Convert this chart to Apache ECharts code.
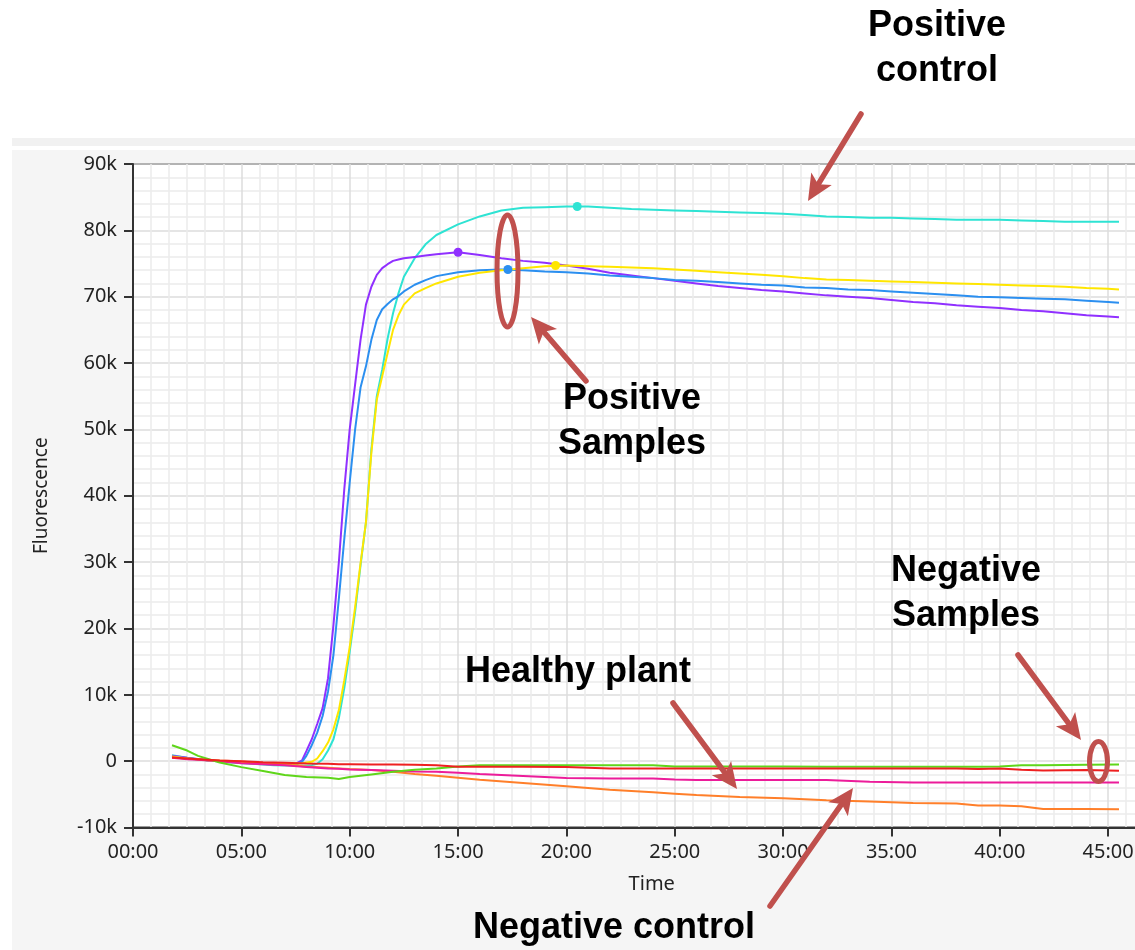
<!DOCTYPE html>
<html><head><meta charset="utf-8">
<script src="https://cdn.jsdelivr.net/npm/echarts@6/dist/echarts.min.js"></script>
<style>html,body{margin:0;padding:0;background:#fff}#c{width:1135px;height:950px}</style>
</head><body><div id="c"></div>
<script>
// Time in minutes, fluorescence in thousands
const times = [1.8, 2.5, 3.5, 4.5, 5.5, 6.5, 7.5, 7.8,
  8.0, 8.25, 8.5, 8.75, 9.0, 9.25, 9.5, 9.75, 10.0, 10.25, 10.5, 10.75, 11.0, 11.25, 11.5, 11.75, 12.0, 12.25, 12.5,
  13.0, 13.5, 14.0,
  15, 16, 17, 18, 19, 20, 21, 22, 23, 24, 25, 26, 27, 28, 29, 30, 31, 32, 33, 34, 35, 36, 37, 38, 39, 40, 41, 42, 43, 44, 45, 45.5];

const positiveControl = [0.9, 0.5, 0.1, -0.2, -0.4, -0.6, -0.7, -0.7,
  -0.7, -0.6, -0.4, 0.3, 1.6, 3.3, 6.5, 11.0, 16.5, 22.5, 29.5, 36.0, 47.0, 55.0, 59.0, 63.7, 67.5, 70.5, 73.0,
  75.8, 77.9, 79.3,
  80.9, 82.1, 83.0, 83.4, 83.5, 83.6, 83.6, 83.4, 83.2, 83.1, 83.0, 82.9, 82.8, 82.7, 82.6, 82.5, 82.3, 82.1, 82.0, 81.9, 81.9, 81.8, 81.7, 81.6, 81.6, 81.6, 81.5, 81.4, 81.3, 81.3, 81.3, 81.3];

const samplePurple = [0.8, 0.5, 0.1, -0.1, -0.3, -0.4, -0.4, 0.1,
  1.5, 3.3, 5.6, 8.0, 12.5, 20.5, 30.0, 41.0, 50.0, 56.8, 63.5, 68.8, 71.5, 73.3, 74.3, 74.9, 75.4, 75.6, 75.8,
  76.0, 76.2, 76.4,
  76.7, 76.3, 75.8, 75.4, 75.1, 74.7, 74.2, 73.6, 73.2, 72.8, 72.4, 72.0, 71.6, 71.3, 71.0, 70.8, 70.5, 70.2, 70.0, 69.8, 69.5, 69.2, 69.0, 68.7, 68.5, 68.3, 68.0, 67.8, 67.5, 67.2, 67.0, 66.9];

const sampleBlue = [0.7, 0.4, 0.1, -0.1, -0.3, -0.5, -0.5, -0.1,
  0.8, 2.4, 4.3, 6.8, 10.5, 16.0, 24.5, 33.5, 42.0, 50.0, 56.3, 59.5, 63.5, 66.5, 68.1, 68.9, 69.6, 70.1, 70.8,
  71.8, 72.5, 73.1,
  73.7, 74.0, 74.1, 74.0, 73.8, 73.7, 73.5, 73.2, 73.0, 72.8, 72.5, 72.4, 72.2, 72.0, 71.8, 71.7, 71.4, 71.3, 71.1, 71.0, 70.8, 70.6, 70.4, 70.2, 70.0, 69.9, 69.8, 69.7, 69.6, 69.4, 69.2, 69.1];

const sampleYellow = [0.7, 0.4, 0.1, -0.1, -0.3, -0.4, -0.4, -0.3,
  -0.2, -0.1, 0.4, 1.5, 2.8, 4.8, 7.7, 12.2, 17.2, 23.2, 29.8, 36.0, 46.5, 54.5, 58.0, 61.5, 65.0, 67.2, 68.8,
  70.5, 71.3, 72.0,
  73.0, 73.6, 74.0, 74.3, 74.6, 74.7, 74.6, 74.5, 74.4, 74.3, 74.1, 73.9, 73.7, 73.5, 73.3, 73.1, 72.8, 72.6, 72.5, 72.4, 72.3, 72.2, 72.1, 72.0, 71.9, 71.8, 71.7, 71.6, 71.5, 71.3, 71.2, 71.1];

const negTimes = [1.8, 2.5, 3, 4, 5, 6, 7, 8, 9, 9.5, 10, 11, 12, 13, 14, 15, 16, 18, 20, 22, 24, 25, 26, 28, 30, 32, 34, 36, 38, 39, 40, 41, 42, 44, 45.5];
const negGreen = [2.4, 1.6, 0.8, -0.2, -0.9, -1.5, -2.1, -2.4, -2.5, -2.7, -2.4, -2.0, -1.6, -1.3, -1.1, -0.8, -0.6, -0.6, -0.6, -0.6, -0.6, -0.8, -0.8, -0.8, -0.8, -0.85, -0.85, -0.85, -0.85, -0.85, -0.8, -0.6, -0.6, -0.55, -0.5];
const negRed = [0.55, 0.4, 0.3, 0.1, 0.0, -0.15, -0.25, -0.35, -0.4, -0.45, -0.45, -0.5, -0.5, -0.55, -0.6, -0.85, -0.85, -0.85, -0.9, -1.1, -1.1, -1.1, -1.1, -1.1, -1.1, -1.1, -1.1, -1.1, -1.1, -1.2, -1.1, -1.3, -1.4, -1.35, -1.45];
const healthyPlant = [0.5, 0.3, 0.2, 0.0, -0.3, -0.45, -0.6, -0.9, -1.1, -1.15, -1.25, -1.35, -1.45, -1.55, -1.6, -1.75, -1.95, -2.25, -2.55, -2.6, -2.6, -2.75, -2.85, -2.85, -2.85, -2.85, -3.1, -3.2, -3.2, -3.2, -3.2, -3.2, -3.2, -3.2, -3.2];
const negativeControl = [0.55, 0.4, 0.3, 0.1, -0.05, -0.3, -0.5, -0.8, -1.0, -1.1, -1.2, -1.35, -1.6, -1.95, -2.2, -2.5, -2.8, -3.3, -3.8, -4.3, -4.7, -4.9, -5.1, -5.4, -5.6, -5.9, -6.1, -6.3, -6.4, -6.7, -6.7, -6.8, -7.2, -7.2, -7.25];

// Marked points on the positive curves: [positive control, purple, blue, yellow]
const peakTimes = [20.5, 15.0, 17.3, 19.5];
const peakValues = [83.6, 76.7, 74.1, 74.7];

const yTicks = [-10, 0, 10, 20, 30, 40, 50, 60, 70, 80, 90];

const C = {cyan:'#2ee3d3', purple:'#9030ff', blue:'#2b8ff0', yellow:'#ffe600',
  green:'#5fd61a', red:'#ee2020', magenta:'#ec1c9a', orange:'#ff7f2a'};
const ANN = '#c0504d';
const FONT = '"Noto Sans", "Open Sans", sans-serif';

function pairs(ts, vs){ return ts.map((t,i)=>[t, vs[i]]); }
function pad(n){ return (n<10?'0':'')+n; }

function lineSeries(name, ts, vs, color, peakIdx){
  const s = {name, type:'line', data:pairs(ts, vs), showSymbol:false, symbol:'none',
    lineStyle:{color, width:2}, itemStyle:{color}, silent:true, animation:false};
  if (peakIdx !== undefined){
    s.markPoint = {symbol:'circle', symbolSize:9, silent:true, animation:false,
      itemStyle:{color}, label:{show:false},
      data:[{coord:[peakTimes[peakIdx], peakValues[peakIdx]]}]};
  }
  return s;
}

function arrow(x1,y1,x2,y2){
  const dx=x2-x1, dy=y2-y1, len=Math.sqrt(dx*dx+dy*dy);
  const ux=dx/len, uy=dy/len, nx=-uy, ny=ux;
  const L=26, W=12;
  const bx=x2-ux*L, by=y2-uy*L;
  const notchX=x2-ux*L*0.75, notchY=y2-uy*L*0.75;
  return [
    {type:'line', z:100, shape:{x1, y1, x2:notchX, y2:notchY}, style:{stroke:ANN, lineWidth:5.5, lineCap:'round'}},
    {type:'polygon', z:100, shape:{points:[[x2,y2],[bx+nx*W,by+ny*W],[notchX,notchY],[bx-nx*W,by-ny*W]]}, style:{fill:ANN}}
  ];
}
function label(text, x, y){
  return {type:'text', z:100, style:{text, x, y, fill:'#000',
    font:'bold 36px "Liberation Sans", Arial, sans-serif',
    fontSize:36, fontWeight:'bold', fontFamily:'"Liberation Sans", Arial, sans-serif',
    align:'center', textAlign:'center', verticalAlign:'middle', textVerticalAlign:'middle', lineHeight:45}};
}

const graphics = [
  {type:'rect', z:-10, shape:{x:0,y:0,width:1135,height:138}, style:{fill:'#ffffff'}},
  {type:'rect', z:-10, shape:{x:0,y:0,width:12,height:950}, style:{fill:'#ffffff'}},
  {type:'rect', z:-10, shape:{x:12,y:138,width:1123,height:8}, style:{fill:'#f1f1f1'}},
  {type:'rect', z:-10, shape:{x:12,y:146,width:1123,height:4}, style:{fill:'#ffffff'}},
  label('Positive\ncontrol', 937, 49),
  label('Positive\nSamples', 632, 422),
  label('Negative\nSamples', 966, 594),
  label('Healthy plant', 578, 672),
  label('Negative control', 614, 928),
  ...arrow(861,114,808,201),
  ...arrow(586,381,531,317),
  ...arrow(673,703,737,789),
  ...arrow(770,906,853,788),
  ...arrow(1018,655,1081,740),
  {type:'ellipse', z:100, shape:{cx:507.5, cy:271, rx:10.5, ry:56}, style:{fill:'none', stroke:ANN, lineWidth:5}},
  {type:'ellipse', z:100, shape:{cx:1098.5, cy:761.5, rx:9, ry:20}, style:{fill:'none', stroke:ANN, lineWidth:5}}
];

const chart = echarts.init(document.getElementById('c'));
chart.setOption({
  animation:false,
  backgroundColor:'#f5f5f5',
  grid:{left:133, top:164, width:1083.5, height:663.5, containLabel:false, outerBoundsMode:'none',
    show:true, backgroundColor:'#ffffff', borderColor:'#3a3a3a', borderWidth:2},
  xAxis:{type:'value', min:0, max:50, interval:5,
    axisLine:{show:true, onZero:false, lineStyle:{color:'#333', width:2}},
    axisTick:{show:true, length:9, lineStyle:{color:'#333', width:2}},
    minorTick:{show:false, splitNumber:6},
    splitLine:{show:true, lineStyle:{color:'#dcdcdc', width:1.5}},
    minorSplitLine:{show:true, lineStyle:{color:'#ececec', width:1.5}},
    axisLabel:{formatter:v=> (v%5===0 ? pad(v)+':00' : ''), fontSize:20, color:'#222', margin:15, fontFamily:FONT},
    name:'Time', nameLocation:'middle', nameGap:47,
    nameTextStyle:{fontSize:20, color:'#222', fontFamily:FONT, padding:[0,46,0,0]}
  },
  yAxis:{type:'value', min:yTicks[0], max:yTicks[yTicks.length-1], interval:10,
    axisLine:{show:true, onZero:false, lineStyle:{color:'#333', width:2}},
    axisTick:{show:true, length:9, lineStyle:{color:'#333', width:2}},
    minorTick:{show:false, splitNumber:5},
    splitLine:{show:true, lineStyle:{color:'#dcdcdc', width:1.5}},
    minorSplitLine:{show:true, lineStyle:{color:'#ececec', width:1.5}},
    axisLabel:{formatter:v=> (v===0 ? '0' : v+'k'), fontSize:20, color:'#222', margin:16, fontFamily:FONT},
    name:'Fluorescence', nameLocation:'middle', nameGap:82,
    nameTextStyle:{fontSize:19, color:'#222', fontFamily:FONT}
  },
  series:[
    lineSeries('Positive control', times, positiveControl, C.cyan, 0),
    lineSeries('Sample 1', times, samplePurple, C.purple, 1),
    lineSeries('Sample 2', times, sampleBlue, C.blue, 2),
    lineSeries('Sample 3', times, sampleYellow, C.yellow, 3),
    lineSeries('Negative control', negTimes, negativeControl, C.orange),
    lineSeries('Healthy plant', negTimes, healthyPlant, C.magenta),
    lineSeries('Negative sample 1', negTimes, negGreen, C.green),
    lineSeries('Negative sample 2', negTimes, negRed, C.red)
  ],
  graphic:{elements:graphics}
});
</script></body></html>
